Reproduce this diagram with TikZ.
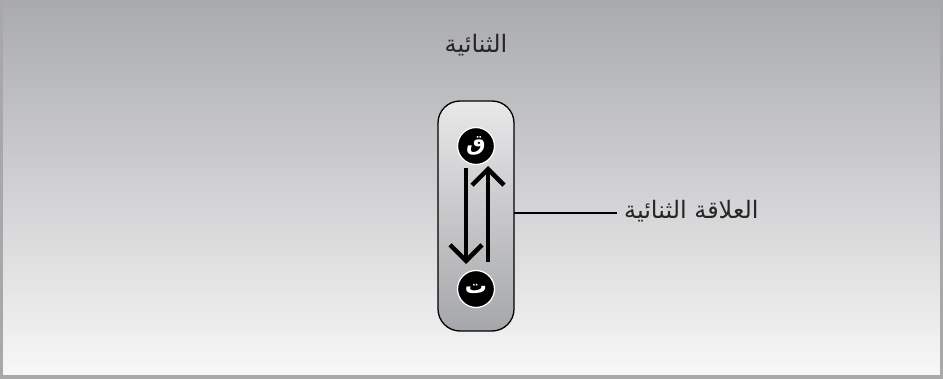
\documentclass[tikz,border=0pt]{standalone}
\usepackage{fontspec}
\usetikzlibrary{arrows.meta}
\TeXXeTstate=1
\newfontfamily\arabicfont[Script=Arabic]{DejaVu Sans}
\definecolor{bgtop}{HTML}{A9AAAD}
\definecolor{bgbot}{HTML}{F8F8F8}
\definecolor{pilltop}{HTML}{E8E8E9}
\definecolor{pillbot}{HTML}{A6A7AA}
\definecolor{framegray}{HTML}{A8A8AA}
\begin{document}
\begin{tikzpicture}[x=1pt,y=-1pt,
  lbl/.style={font=\arabicfont\fontsize{24}{28}\selectfont, text=black!85, inner sep=0pt},
  letter/.style={circle, fill=black, draw=white, line width=1.3pt, minimum size=37pt, inner sep=0pt,
     font=\arabicfont\bfseries\fontsize{22}{24}\selectfont, text=white},
  flow/.style={line width=4.5pt, -{Straight Barb[length=16pt,width=32pt,line width=4.5pt]}}]
\useasboundingbox (0,0) rectangle (943,379);
\shade[top color=bgtop, bottom color=bgbot] (0,0) rectangle (943,379);
\fill[framegray] (0,0) rectangle (3,379);
\fill[framegray] (940,0) rectangle (943,379);
\fill[framegray] (0,375) rectangle (943,379);
% pill
\shade[top color=pilltop, bottom color=pillbot, draw=black, line width=1.3pt, rounded corners=22pt]
  (438,101) rectangle (514,331);
\node[letter] (q) at (476,146) {\beginR ق\endR};
\node[letter] (t) at (476,289) {\beginR ت\endR};
\coordinate (d1) at (466,168);
\coordinate (d2) at (466,264);
\coordinate (u1) at (488,262);
\coordinate (u2) at (488,166);
\draw[flow] (d1) -- (d2);
\draw[flow] (u1) -- (u2);
\coordinate (pr) at (514,213);
\node[lbl, anchor=west] (rel) at (624,211) {\beginR العلاقة الثنائية\endR};
\draw[line width=1.3pt] (pr) -- (617,213);
\node[lbl] (title) at (476,45) {\beginR الثنائية\endR};
\end{tikzpicture}
\end{document}
